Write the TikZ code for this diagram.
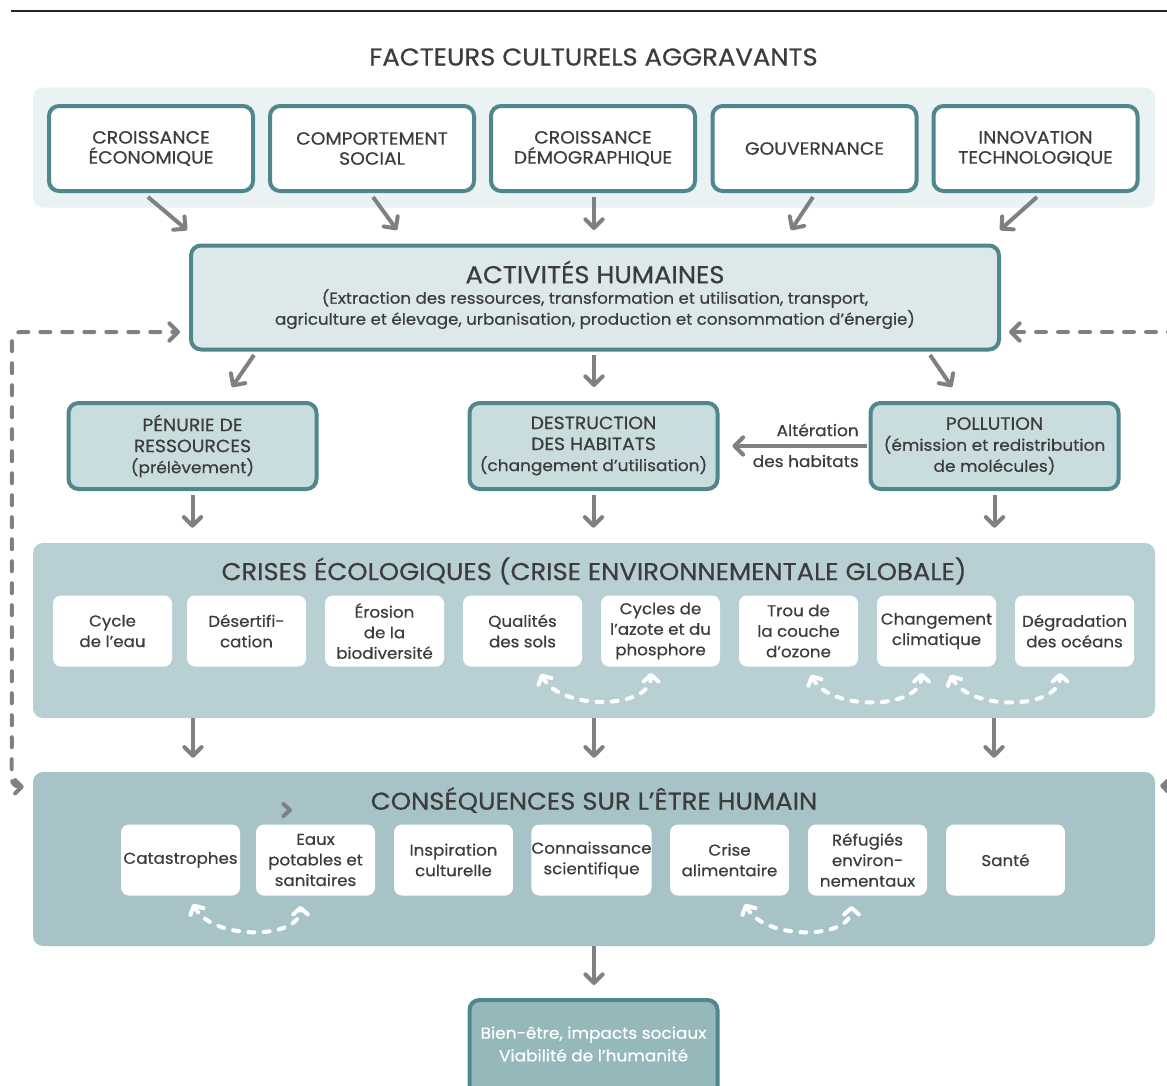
\documentclass[tikz,border=0pt]{standalone}
\usepackage{fontspec}
\setmainfont{Poppins}[FakeStretch=1.06, FakeBold=0.5]
\usetikzlibrary{arrows.meta,calc}
\definecolor{tealS}{HTML}{4F878D}
\definecolor{arrowgray}{HTML}{808084}
\definecolor{txt}{HTML}{3C3C3C}
\definecolor{panelA}{HTML}{EBF2F4}
\definecolor{actfill}{HTML}{DCE8E9}
\definecolor{midfill}{HTML}{C9DCDE}
\definecolor{crisfill}{HTML}{B8CFD4}
\definecolor{consfill}{HTML}{A7C3C8}
\definecolor{botfill}{HTML}{95B8BB}
\newcommand\fsTitle{\fontsize{18.3}{22}\selectfont}
\newcommand\fsBox{\fontsize{13.3}{15}\selectfont}
\newcommand\fsSub{\fontsize{12}{15.75}\selectfont}
\newcommand\fsUp{\fontsize{13.3}{15.75}\selectfont}
\newcommand\fsSmall{\fontsize{11.8}{15.4}\selectfont}
\tikzset{
  panel/.style={fill=#1, draw=none, rounded corners=7.5pt, inner sep=0pt},
  topbox/.style={draw=tealS, line width=3pt, rounded corners=7.5pt, fill=white,
    minimum width=153pt, minimum height=63.75pt, inner sep=0pt, align=center,
    font=\fsBox, text=txt},
  midbox/.style={draw=tealS, line width=3pt, rounded corners=7.5pt, fill=midfill,
    minimum width=186pt, minimum height=64.5pt, inner sep=0pt, align=center,
    font=\fsSub, text=txt},
  subbox/.style={fill=white, draw=none, rounded corners=6pt,
    minimum width=89.25pt, minimum height=53.25pt, inner sep=0pt, align=center,
    font=\fsSmall, text=txt},
  titletext/.style={font=\fsTitle, text=txt, inner sep=0pt},
  arr/.style={draw=arrowgray, line width=3pt,
    -{Straight Barb[length=6.5pt,width=13pt,round]}},
  dasharr/.style={draw=arrowgray, line width=3pt, line cap=round,
    dash pattern=on 7.5pt off 9pt},
  wdash/.style={draw=white, line width=3pt, line cap=round,
    dash pattern=on 4.5pt off 7pt,
    {Straight Barb[length=5pt,width=11pt,round]}-{Straight Barb[length=5pt,width=11pt,round]}},
}
\begin{document}
\begin{tikzpicture}[x=0.75pt,y=-0.75pt]
\useasboundingbox (0,0) rectangle (1167,1085);
\clip (0,0) rectangle (1167,1085);
\fill[white] (0,0) rectangle (1167,1085);
% top rule
\draw[line width=1pt, black!85] (11,11) -- (1167,11);
% title
\node[titletext] (facteurs) at (593.5,57) {FACTEURS CULTURELS AGGRAVANTS};
% top panel
\node[panel=panelA, minimum width=841.5pt, minimum height=90pt] (toppanel) at (594,147.5) {};
\node[topbox] (f1) at (151,148.5) {CROISSANCE\\ÉCONOMIQUE};
\node[topbox] (f2) at (372,148.5) {COMPORTEMENT\\SOCIAL};
\node[topbox] (f3) at (593,148.5) {CROISSANCE\\DÉMOGRAPHIQUE};
\node[topbox] (f4) at (814.5,148.5) {GOUVERNANCE};
\node[topbox] (f5) at (1035.5,148.5) {INNOVATION\\TECHNOLOGIQUE};
% activites
\node[draw=tealS, line width=3pt, rounded corners=7.5pt, fill=actfill,
  minimum width=606pt, minimum height=78pt, inner sep=0pt] (act) at (595,297.5) {};
\node[titletext] (acttitle) at (595,272) {ACTIVITÉS HUMAINES};
\node[font=\fontsize{11.8}{15.75}\selectfont, text=txt, align=center, inner sep=0pt] (actsub) at (595,309)
  {(Extraction des ressources, transformation et utilisation, transport,\\
   agriculture et élevage, urbanisation, production et consommation d’énergie)};
% middle boxes
\node[midbox] (pen) at (192.5,446) {{\fsUp PÉNURIE DE}\\{\fsUp RESSOURCES}\\(prélèvement)};
\node[midbox] (des) at (593.5,446) {{\fsUp DESTRUCTION}\\{\fsUp DES HABITATS}\\(changement d’utilisation)};
\node[midbox] (pol) at (994.5,446) {{\fsUp POLLUTION}\\(émission et redistribution\\de molécules)};
% crises panel
\node[panel=crisfill, minimum width=841.5pt, minimum height=131.25pt] (crises) at (594,630.5) {};
\node[titletext] (cristitle) at (594,571) {CRISES ÉCOLOGIQUES (CRISE ENVIRONNEMENTALE GLOBALE)};
\node[subbox] (c1) at (112.5,631) {Cycle\\de l’eau};
\node[subbox] (c2) at (246.5,631) {Désertifi-\\cation};
\node[subbox] (c3) at (384.5,631) {Érosion\\de la\\biodiversité};
\node[subbox] (c4) at (522.5,631) {Qualités\\des sols};
\node[subbox] (c5) at (660.5,631) {Cycles de\\l’azote et du\\phosphore};
\node[subbox] (c6) at (798.5,631) {Trou de\\la couche\\d’ozone};
\node[subbox] (c7) at (936.5,631) {Changement\\climatique};
\node[subbox] (c8) at (1074.5,631) {Dégradation\\des océans};
% consequences panel
\node[panel=consfill, minimum width=841.5pt, minimum height=130.5pt] (cons) at (594,859) {};
\node[titletext] (constitle) at (594,800) {CONSÉQUENCES SUR L’ÊTRE HUMAIN};
\node[subbox] (q1) at (180.5,860) {Catastrophes};
\node[subbox] (q2) at (315.5,860) {Eaux\\potables et\\sanitaires};
\node[subbox] (q3) at (453.5,860) {Inspiration\\culturelle};
\node[subbox] (q4) at (591.5,860) {Connaissance\\scientifique};
\node[subbox] (q5) at (729.5,860) {Crise\\alimentaire};
\node[subbox] (q6) at (867.5,860) {Réfugiés\\environ-\\nementaux};
\node[subbox] (q7) at (1005.5,860) {Santé};
% bottom box
\node[draw=tealS, line width=3pt, rounded corners=7.5pt, fill=botfill,
  minimum width=186pt, minimum height=75pt, inner sep=0pt] (bot) at (593.5,1050) {};
\node[font=\fontsize{12}{17}\selectfont, text=white, align=center, inner sep=0pt] (bottxt) at (593.5,1044)
  {Bien-être, impacts sociaux\\Viabilité de l’humanité};
% arrows top -> activites
\draw[arr] ($(f1.south)+(-3,4)$) -- ($(act.north)+(-408,-13.5)$);
\draw[arr] ($(f2.south)+(1,4)$) -- ($(act.north)+(-198,-13.5)$);
\draw[arr] ($(f3.south)+(1,4)$) -- ($(act.north)+(-1,-13.5)$);
\draw[arr] ($(f4.south)+(-1.5,4)$) -- ($(act.north)+(196,-13.5)$);
\draw[arr] ($(f5.south)+(1.5,4)$) -- ($(act.north)+(405,-13.5)$);
% activites -> middle
\draw[arr] ($(act.south)+(-341,3.5)$) -- ($(pen.north)+(39.5,-14)$);
\draw[arr] ($(act.south)+(-1,3.5)$) -- ($(des.north)+(0.5,-14)$);
\draw[arr] ($(act.south)+(335,3.5)$) -- ($(pol.north)+(-42.5,-14)$);
% pollution -> destruction
\draw[arr] ($(pol.west)+(-2,0)$) -- ($(des.east)+(13,0)$);
\node[font=\fsSub, text=txt, anchor=east, inner sep=0pt] (alt1) at (859,430) {Altération};
\node[font=\fsSub, text=txt, anchor=east, inner sep=0pt] (alt2) at (859,461) {des habitats};
% middle -> crises
\draw[arr] ($(pen.south)+(0,4)$) -- ($(crises.north)+(-401.5,-15)$);
\draw[arr] ($(des.south)+(0,4)$) -- ($(crises.north)+(-0.5,-15)$);
\draw[arr] ($(pol.south)+(0,4)$) -- ($(crises.north)+(400.5,-15)$);
% crises -> consequences
\draw[arr] ($(crises.south)+(-401,0)$) -- ($(cons.north)+(-401,-14)$);
\draw[arr] ($(crises.south)+(0,0)$) -- ($(cons.north)+(0,-14)$);
\draw[arr] ($(crises.south)+(400,0)$) -- ($(cons.north)+(400,-14)$);
% consequences -> bottom
\draw[arr] (cons.south) -- ($(bot.north)+(0.5,-13)$);
% dashed feedback loops
\draw[dasharr, rounded corners=6pt,
  {Straight Barb[length=5pt,width=10pt,round]}-{Straight Barb[length=6.5pt,width=13pt,round]}]
  ($(cons.north west)+(-9,15)$) -- ($(cons.north west)+(-21,15)$) -- (12,332) -- ($(act.west)+(-9,34.5)$);
\draw[dasharr, -{Straight Barb[length=6.5pt,width=13pt,round]}]
  (1178,332) -- ($(act.east)+(8,34.5)$);
\draw[dasharr, -{Straight Barb[length=6.5pt,width=13pt,round]}]
  (1172,786) -- ($(cons.north east)+(5,14)$);
% stray chevron
\draw[arrowgray, line width=3pt, line cap=round, line join=round] (283.5,804) -- (290,810) -- (283.5,816);
% white dashed interactions
\draw[wdash] ($(c4.south)+(18.5,7)$) .. controls ++(19,37) and ($(c5.south)+(-9.5,43)$) .. ($(c5.south)+(-9.5,6)$);
\draw[wdash] ($(c6.south)+(12.5,8)$) .. controls ++(19,37) and ($(c7.south)+(-15,43)$) .. ($(c7.south)+(-15,6)$);
\draw[wdash] ($(c7.south)+(14,8)$) .. controls ++(19,37) and ($(c8.south)+(-14.5,43)$) .. ($(c8.south)+(-14.5,6)$);
\draw[wdash] ($(q1.south)+(12.5,8)$) .. controls ++(19,37) and ($(q2.south)+(-15,44)$) .. ($(q2.south)+(-15,10)$);
\draw[wdash] ($(q5.south)+(15.5,8)$) .. controls ++(19,37) and ($(q6.south)+(-16,44)$) .. ($(q6.south)+(-16,10)$);
\end{tikzpicture}
\end{document}
